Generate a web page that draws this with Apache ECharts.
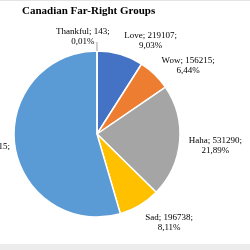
<!DOCTYPE html>
<html><head><meta charset="utf-8">
<script src="https://cdn.jsdelivr.net/npm/echarts@6/dist/echarts.min.js"></script>
<style>html,body{margin:0;padding:0;background:#fff}#c{width:250px;height:250px}</style>
</head><body><div id="c"></div>
<script>
const titleText = 'Canadian Far-Right Groups';
const categories = ['Love', 'Wow', 'Haha', 'Sad', 'Like', 'Thankful'];
const values = [219107, 156215, 531290, 196738, 1323115, 143];
const colors = ['#4472C4', '#ED7D31', '#A5A5A5', '#FFC000', '#5B9BD5', '#70AD47'];
const leaderFor = ['Thankful'];

const total = values.reduce((a, b) => a + b, 0);
const fontFamily = '"Liberation Serif", "Times New Roman", serif';
const labelSize = 9, lineH = 10;
const CX = 97, CY = 134, R = 83, GAP = 7, DROP = 3, SHIFT = 2, LEADER = 9;

function labelText(i) {
  return categories[i] + '; ' + values[i] + ';\n' + (values[i] / total * 100).toFixed(2).replace('.', ',') + '%';
}
const ctx = document.createElement('canvas').getContext('2d');
ctx.font = labelSize + 'px ' + fontFamily;
let cum = 0;
const mids = values.map(v => { const a = (cum + v / 2) / total * 2 * Math.PI; cum += v; return a; });

const leaders = categories.map((n, i) => leaderFor.indexOf(n) < 0 ? null : {
  type: 'line', z: 10,
  shape: {
    x1: CX + R * Math.sin(mids[i]), y1: CY - R * Math.cos(mids[i]),
    x2: CX + (R + LEADER) * Math.sin(mids[i]), y2: CY - (R + LEADER) * Math.cos(mids[i])
  },
  style: {stroke: '#a0a0a0', lineWidth: 1}
}).filter(Boolean);

const chart = echarts.init(document.getElementById('c'), null, {renderer: 'canvas'});
chart.setOption({
  animation: false,
  title: {text: titleText, left: 22, top: 6, padding: 0, textStyle: {fontFamily: fontFamily, fontWeight: 'bold', fontSize: 11, color: '#000'}},
  graphic: [
    {type: 'rect', shape: {x: 0, y: 0, width: 250, height: 1}, style: {fill: '#e4e4e4'}},
    {type: 'rect', shape: {x: 0, y: 244, width: 250, height: 6}, style: {fill: '#ececec'}}
  ].concat(leaders),
  series: [{
    type: 'pie',
    center: [CX, CY],
    radius: R,
    startAngle: 90,
    clockwise: true,
    avoidLabelOverlap: false,
    itemStyle: {borderColor: '#fff', borderWidth: 1.5},
    label: {
      show: true, position: 'outside', fontFamily: fontFamily, fontSize: labelSize, color: '#000',
      lineHeight: lineH, width: 90, overflow: 'none',
      formatter: p => labelText(p.dataIndex)
    },
    labelLine: {show: false},
    labelLayout: p => {
      const i = p.dataIndex, a = mids[i];
      const ux = Math.sin(a), uy = -Math.cos(a);
      const lines = labelText(i).split('\n');
      const w = Math.max.apply(null, lines.map(l => ctx.measureText(l).width));
      const h = lines.length * lineH;
      const px = CX + (R + GAP) * ux, py = CY + (R + GAP) * uy;
      const s = ux > 0.02 ? 1 : (ux < -0.02 ? -1 : -0.6);
      return {x: px + s * w / 2 + SHIFT, y: py + uy * h / 2 + DROP, align: 'center', verticalAlign: 'middle'};
    },
    data: categories.map((n, i) => ({
      name: n, value: values[i], itemStyle: {color: colors[i]}
    }))
  }]
});
</script></body></html>
